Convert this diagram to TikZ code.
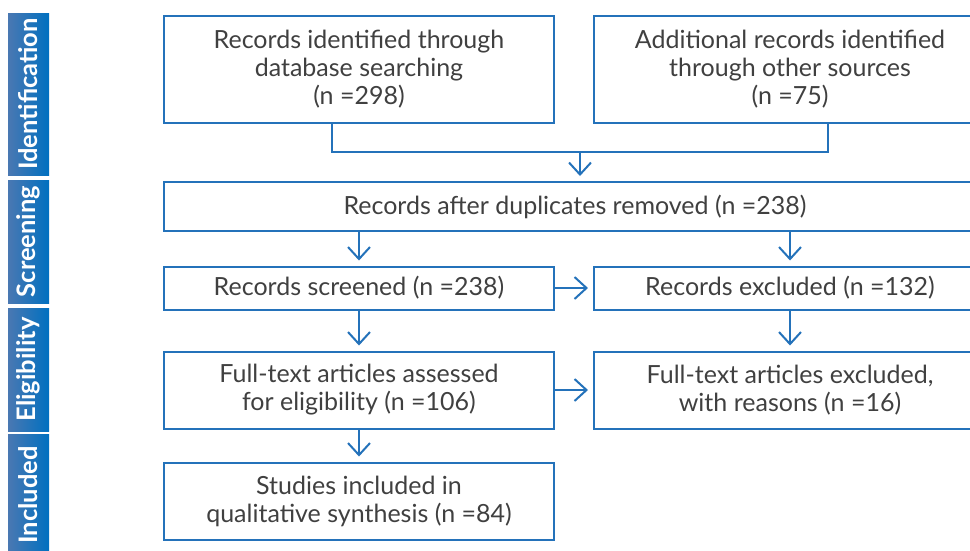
\documentclass[tikz,border=0pt]{standalone}
\usepackage{fontspec}
\setmainfont{Lato}
\usetikzlibrary{arrows.meta}
\definecolor{prisma}{RGB}{36,114,186}
\definecolor{tabtop}{RGB}{0,112,192}
\definecolor{tabbot}{RGB}{74,120,178}
\definecolor{txt}{RGB}{64,64,64}
\tikzset{
  box/.style={draw=prisma, line width=2pt, text=txt, align=center, inner sep=0pt,
    font=\fontsize{25}{28}\selectfont},
  link/.style={draw=prisma, line width=2pt},
  arr/.style={link, -{Straight Barb[length=12pt,width=22pt]}, shorten >=5pt},
  phase/.style={rotate=90, minimum height=41pt, inner sep=0pt, text=white,
    right color=tabtop, left color=tabbot, font=\fontsize{25.5}{28}\selectfont\bfseries},
}
\begin{document}
\begin{tikzpicture}[x=1pt,y=-1pt]
\useasboundingbox (0,0) rectangle (970,550);
% phases
\node[phase, minimum width=162pt] (idf) at (28.5,94) {Identification};
\node[phase, minimum width=123pt] (scr) at (28.5,241.5) {Screening};
\node[phase, minimum width=123pt] (elg) at (28.5,369.5) {Eligibility};
\node[phase, minimum width=122pt] (inc) at (28.5,495) {Included};
% boxes
\node[box, minimum width=390pt, minimum height=107pt] (db) at (359,69.5) {Records identified through\\database searching\\(n =298)};
\node[box, minimum width=392pt, minimum height=107pt] (other) at (790,69.5) {Additional records identified\\through other sources\\(n =75)};
\node[box, minimum width=822pt, minimum height=49pt] (dup) at (575,206.5) {Records after duplicates removed (n =238)};
\node[box, minimum width=390pt, minimum height=43pt] (screen) at (359,288) {Records screened (n =238)};
\node[box, minimum width=392pt, minimum height=43pt] (excl) at (790,288) {Records excluded (n =132)};
\node[box, minimum width=390pt, minimum height=77pt] (full) at (359,390) {Full-text articles assessed\\for eligibility (n =106)};
\node[box, minimum width=392pt, minimum height=77pt] (fullex) at (790,390) {Full-text articles excluded,\\with reasons (n =16)};
\node[box, minimum width=390pt, minimum height=77pt] (incl) at (359,501) {Studies included in\\qualitative synthesis (n =84)};
% connectors
\coordinate (j1) at (332,152);
\coordinate (j2) at (828,152);
\coordinate (jm) at (580,152);
\draw[link] (db.south -| j1) -- (j1) -- (j2) -- (other.south -| j2);
\draw[arr] (jm) -- (dup.north -| jm);
\draw[arr] (dup.south -| screen.north) -- (screen.north);
\draw[arr] (dup.south -| excl.north) -- (excl.north);
\draw[arr] (screen) -- (excl);
\draw[arr] (screen) -- (full);
\draw[arr] (excl) -- (fullex);
\draw[arr] (full) -- (fullex);
\draw[arr] (full) -- (incl);
\end{tikzpicture}
\end{document}
